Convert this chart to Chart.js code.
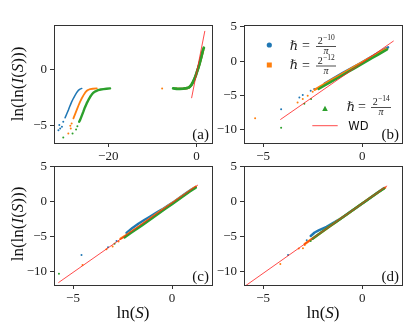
<!DOCTYPE html>
<html><head><meta charset="utf-8">
<script src="https://cdn.jsdelivr.net/npm/chart.js@4.4.0/dist/chart.umd.min.js"></script>
<style>
html,body{margin:0;padding:0;background:#fff;}
#wrap{position:relative;width:415px;height:324px;overflow:hidden;background:#fff;}
canvas{position:absolute;left:0;top:0;}
</style></head><body>
<div id="wrap">
<canvas id="ca" width="415" height="324"></canvas>
<canvas id="cb" width="415" height="324"></canvas>
<canvas id="cc" width="415" height="324"></canvas>
<canvas id="cd" width="415" height="324"></canvas>
</div>
<script>
// ---------- tick labels ----------
const aXTicks = [-20, 0];
const aYTicks = [-5, 0];
const bcdXTicks = [-5, 0];
const bcdYTicks = [-10, -5, 0, 5];
const panelTags = ['(a)', '(b)', '(c)', '(d)'];
const legendExps = ['\u221210', '\u221212', '\u221214'];
const legendWD = 'WD';

// ---------- panel (a) ----------
const aBlueLow = [[-31.3,-5.45],[-30.9,-5.3],[-30.5,-5.15],[-30.2,-4.7],[-31.1,-5.0]];
const aBlueCurve = [[-29.8,-4.35],[-29.4,-3.98],[-29.05,-3.66],[-28.7,-3.3],[-28.3,-2.92],[-27.9,-2.6],[-27.5,-2.32],[-27.1,-2.06],[-26.8,-1.9],[-26.4,-1.78],[-26.0,-1.72]];
const aBlueRight = [[-3.8,-1.76],[-2.8,-1.74],[-1.9,-1.68],[-1.2,-1.45],[-0.6,-1.0],[0.0,-0.35],[0.5,0.25],[1.0,0.95],[1.4,1.6]];
const aOrangeLow = [[-29.05,-5.74],[-28.6,-5.05],[-28.5,-5.3],[-28.3,-4.85]];
const aOrangeCurve = [[-27.9,-4.4],[-27.5,-4.0],[-27.1,-3.6],[-26.75,-3.25],[-26.4,-2.92],[-26.0,-2.6],[-25.6,-2.32],[-25.25,-2.1],[-24.9,-1.94],[-24.5,-1.84],[-24.1,-1.79],[-23.5,-1.75],[-22.6,-1.72]];
const aOrangeRight = [[-4.6,-1.75],[-3.6,-1.76],[-2.6,-1.73],[-1.8,-1.66],[-1.2,-1.45],[-0.6,-1.0],[0.0,-0.35],[0.5,0.25],[1.0,0.95],[1.5,1.7]];
const aOrangeIso = [[-7.8,-1.72]];
const aGreenLow = [[-30.2,-6.1],[-28.1,-5.74],[-27.3,-5.4],[-27.0,-5.1]];
const aGreenCurve = [[-26.6,-4.7],[-26.4,-4.55],[-26.0,-4.15],[-25.65,-3.8],[-25.3,-3.42],[-24.9,-3.06],[-24.5,-2.75],[-24.1,-2.47],[-23.75,-2.27],[-23.4,-2.11],[-22.9,-1.98],[-22.3,-1.88],[-21.7,-1.82],[-21.1,-1.78],[-20.4,-1.75],[-19.6,-1.72]];
const aGreenRight = [[-5.3,-1.72],[-4.5,-1.75],[-3.8,-1.76],[-3.0,-1.74],[-2.26,-1.7],[-1.8,-1.64],[-1.5,-1.55],[-1.1,-1.35],[-0.77,-1.12],[-0.45,-0.85],[-0.16,-0.54],[0.1,-0.22],[0.36,0.08],[0.65,0.45],[0.9,0.83],[1.2,1.3],[1.45,1.7],[1.65,1.92]];
const aWD = [[-1.13,-2.59],[1.88,3.42]];

// ---------- panel (b) ----------
const bBlueBand = [[-1.9,-3.25],[-1.6,-2.75],[-1.3,-2.25],[-1.0,-1.75],[-0.7,-1.27],[-0.4,-0.78],[-0.1,-0.3],[0.2,0.2],[0.5,0.7],[0.8,1.2],[1.1,1.7],[1.3,2.0]];
const bBlueDots = [[-4.09,-7.0],[-3.17,-5.27],[-3.0,-4.93],[-2.6,-4.3],[-2.42,-4.06]];
const bOrangeBand = [[-2.4,-4.15],[-2.1,-3.65],[-1.8,-3.15],[-1.5,-2.65],[-1.2,-2.15],[-0.9,-1.65],[-0.6,-1.15],[-0.3,-0.66],[0.0,-0.17],[0.3,0.33],[0.6,0.82],[0.9,1.32],[1.2,1.8]];
const bOrangeDots = [[-5.4,-8.3],[-3.26,-6.0],[-3.0,-5.5],[-2.75,-5.03],[-2.5,-4.45]];
const bGreenBand = [[-2.2,-4.05],[-1.9,-3.55],[-1.6,-3.05],[-1.3,-2.55],[-1.0,-2.05],[-0.7,-1.55],[-0.4,-1.05],[-0.1,-0.55],[0.2,-0.05],[0.5,0.45],[0.8,0.95],[1.1,1.45],[1.25,1.7]];
const bGreenDots = [[-4.09,-9.7],[-2.92,-6.2],[-2.58,-5.5]];
const bWD = [[-4.13,-8.5],[1.58,2.94]];

// ---------- panel (c) ----------
const cBlueBand = [[-2.3,-4.45],[-2.0,-3.75],[-1.7,-3.15],[-1.4,-2.62],[-1.1,-2.1],[-0.8,-1.6],[-0.5,-1.1],[-0.2,-0.55],[0.1,0.0],[0.4,0.6],[0.7,1.2],[1.0,1.78],[1.2,2.1]];
const cBlueDots = [[-4.57,-7.6],[-3.23,-6.5],[-2.8,-5.6]];
const cOrangeBand = [[-2.6,-5.3],[-2.3,-4.75],[-2.0,-4.2],[-1.7,-3.6],[-1.4,-3.0],[-1.1,-2.4],[-0.8,-1.8],[-0.5,-1.2],[-0.2,-0.62],[0.1,-0.03],[0.4,0.55],[0.7,1.15],[1.0,1.75],[1.2,2.15]];
const cOrangeDots = [[-4.52,-9.05],[-3.31,-6.8],[-3.0,-6.4],[-2.7,-5.7]];
const cGreenBand = [[-2.4,-5.1],[-2.1,-4.5],[-1.8,-3.95],[-1.5,-3.35],[-1.2,-2.75],[-0.9,-2.15],[-0.6,-1.55],[-0.3,-0.95],[0.0,-0.35],[0.3,0.25],[0.6,0.85],[0.9,1.45],[1.2,2.0]];
const cGreenDots = [[-5.71,-10.3],[-2.9,-6.0]];
const cWD = [[-5.74,-11.57],[1.31,2.39]];

// ---------- panel (d) ----------
const dBlueBand = [[-2.6,-4.9],[-2.4,-4.4],[-2.2,-4.1],[-2.0,-3.85],[-1.8,-3.6],[-1.5,-3.1],[-1.2,-2.6],[-0.9,-2.05],[-0.6,-1.45],[-0.3,-0.85],[0.0,-0.25],[0.3,0.35],[0.6,0.95],[0.9,1.55],[1.1,1.95]];
const dBlueDots = [[-3.74,-7.6],[-2.8,-5.5]];
const dOrangeBand = [[-2.9,-6.05],[-2.6,-5.45],[-2.3,-4.85],[-2.0,-4.25],[-1.7,-3.65],[-1.4,-3.05],[-1.1,-2.45],[-0.8,-1.85],[-0.5,-1.25],[-0.2,-0.65],[0.1,-0.05],[0.4,0.55],[0.7,1.15],[1.0,1.75],[1.15,2.0]];
const dOrangeDots = [[-4.13,-8.9],[-3.2,-6.7],[-2.99,-6.66],[-2.9,-6.2]];
const dGreenBand = [[-2.5,-5.3],[-2.2,-4.65],[-1.9,-4.05],[-1.6,-3.45],[-1.3,-2.85],[-1.0,-2.25],[-0.7,-1.65],[-0.4,-1.05],[-0.1,-0.45],[0.2,0.15],[0.5,0.75],[0.8,1.35],[1.1,1.9]];
const dGreenDots = [[-2.6,-5.6]];
const dWD = [[-6.2,-12.64],[1.25,2.26]];

// ---------- styling / layout ----------
const W = 415, H = 324, YW = 40, XH = 20;
const BLUE = '#1f77b4', ORANGE = '#ff7f0e', GREEN = '#2ca02c', RED = 'rgba(255,30,30,0.8)';
const SERIF = '"Liberation Serif", "DejaVu Serif", serif';
const pts = a => a.map(p => ({x: p[0], y: p[1]}));
const fmt = v => v < 0 ? '\u2212' + (-v) : String(v);

function band(arr, color, w, order) {
  return {data: pts(arr), showLine: true, borderColor: color, backgroundColor: color, borderWidth: w,
    pointRadius: 0, order, clip: 0, borderCapStyle: 'round', borderJoinStyle: 'round'};
}
function dots(arr, color, order) {
  return {data: pts(arr), showLine: false, pointRadius: 1, pointBorderWidth: 0, backgroundColor: color,
    borderColor: color, order, clip: 0};
}
function wd(arr) {
  return {data: pts(arr), showLine: true, borderColor: RED, borderWidth: 1, pointRadius: 0, order: 0, clip: 0};
}

function drawMixed(ctx, segs, size, cx, cy) {
  let total = 0;
  segs.forEach(s => { ctx.font = (s[1] ? 'italic ' : '') + size + 'px ' + SERIF; total += ctx.measureText(s[0]).width; });
  let x = cx - total / 2;
  ctx.textAlign = 'left'; ctx.textBaseline = 'middle';
  segs.forEach(s => { ctx.font = (s[1] ? 'italic ' : '') + size + 'px ' + SERIF; ctx.fillText(s[0], x, cy); x += ctx.measureText(s[0]).width; });
}
const yTitle = [['ln(ln(', false], ['I', true], ['(', false], ['S', true], [')))', false]];
const xTitle = [['ln(', false], ['S', true], [')', false]];

function makePanel(id, box, xr, yr, xt, yt, datasets, tag, extra) {
  const frame = {
    id: 'frame' + id,
    afterDraw(chart) {
      const c = chart.ctx, a = chart.chartArea;
      c.save();
      c.strokeStyle = '#333'; c.lineWidth = 1;
      c.strokeRect(a.left + 0.5, a.top + 0.5, a.right - a.left, a.bottom - a.top);
      c.fillStyle = '#111';
      c.font = '15px ' + SERIF; c.textAlign = 'right'; c.textBaseline = 'alphabetic';
      c.fillText(tag, a.right - 3, a.bottom - 4.5);
      if (extra) extra(c, a);
      c.restore();
    }
  };
  const tickFont = {family: SERIF, size: 13};
  return new Chart(document.getElementById(id), {
    type: 'scatter',
    data: {datasets},
    options: {
      responsive: false, animation: false, devicePixelRatio: 1, events: [],
      layout: {padding: {left: box.l - YW, right: W - box.r, top: box.t, bottom: H - box.b - XH}},
      plugins: {legend: {display: false}, tooltip: {enabled: false}},
      scales: {
        x: {type: 'linear', min: xr[0], max: xr[1],
          afterBuildTicks: s => { s.ticks = xt.map(v => ({value: v})); },
          afterFit: s => { s.height = XH; },
          grid: {drawOnChartArea: false, drawTicks: true, tickLength: 4, tickColor: '#333', tickWidth: 1},
          border: {display: false},
          ticks: {autoSkip: false, maxRotation: 0, padding: 2, color: '#222', font: tickFont, callback: fmt}},
        y: {type: 'linear', min: yr[0], max: yr[1],
          afterBuildTicks: s => { s.ticks = yt.map(v => ({value: v})); },
          afterFit: s => { s.width = YW; },
          grid: {drawOnChartArea: false, drawTicks: true, tickLength: 4, tickColor: '#333', tickWidth: 1},
          border: {display: false},
          ticks: {autoSkip: false, padding: 3, color: '#222', font: tickFont, callback: fmt}}
      }
    },
    plugins: [frame]
  });
}

// panel (a)
makePanel('ca', {l: 54, t: 25, r: 212, b: 143}, [-32.3, 3.5], [-6.6, 3.95], aXTicks, aYTicks, [
  wd(aWD),
  band(aGreenCurve, GREEN, 2.4, 1), dots(aGreenLow, GREEN, 1), band(aGreenRight, GREEN, 2.8, 1),
  band(aOrangeCurve, ORANGE, 1.8, 2), dots(aOrangeLow, ORANGE, 2), band(aOrangeRight, ORANGE, 2.4, 2), dots(aOrangeIso, ORANGE, 2),
  band(aBlueCurve, BLUE, 1.5, 3), dots(aBlueLow, BLUE, 3), band(aBlueRight, BLUE, 2.2, 3)
], panelTags[0], (c, a) => {
  c.save(); c.translate(18.5, 84); c.rotate(-Math.PI / 2); c.fillStyle = '#111';
  drawMixed(c, yTitle, 17, 0, 0); c.restore();
});

// panel (b)
makePanel('cb', {l: 244, t: 25, r: 402, b: 143}, [-5.96, 2.0], [-11.9, 5.25], bcdXTicks, bcdYTicks, [
  wd(bWD),
  band(bGreenBand, GREEN, 2.4, 1), dots(bGreenDots, GREEN, 1),
  band(bOrangeBand, ORANGE, 2.4, 2), dots(bOrangeDots, ORANGE, 2),
  band(bBlueBand, BLUE, 2.4, 3), dots(bBlueDots, BLUE, 3)
], panelTags[1], (c, a) => {
  function entry(hx, eqx, fx, cy, exp) {
    c.fillStyle = '#222'; c.textAlign = 'center'; c.textBaseline = 'middle';
    c.font = 'italic 13px "DejaVu Serif", serif'; c.fillText('\u210F', hx, cy);
    c.font = '14px ' + SERIF; c.fillText('=', eqx, cy);
    c.font = '10px ' + SERIF; const w2 = c.measureText('2').width;
    c.font = '7.5px ' + SERIF; const we = c.measureText(exp).width;
    const sx = fx - (w2 + we) / 2;
    c.textAlign = 'left'; c.textBaseline = 'alphabetic';
    c.font = '10px ' + SERIF; c.fillText('2', sx, cy - 2.5);
    c.font = '7.5px ' + SERIF; c.fillText(exp, sx + w2 + 0.3, cy - 6.3);
    c.fillRect(fx - 10, cy - 0.4, 20, 0.8);
    c.textAlign = 'center'; c.textBaseline = 'alphabetic';
    c.font = 'italic 10px ' + SERIF; c.fillText('\u03C0', fx, cy + 7.5);
  }
  // markers
  c.fillStyle = BLUE; c.beginPath(); c.arc(269.3, 45, 2.6, 0, Math.PI * 2); c.fill();
  c.fillStyle = ORANGE; c.fillRect(266.8, 62.5, 5, 5);
  c.fillStyle = GREEN; c.beginPath(); c.moveTo(325, 105.8); c.lineTo(327.8, 111); c.lineTo(322.2, 111); c.closePath(); c.fill();
  entry(294, 306, 326, 46.5, legendExps[0]);
  entry(294, 306, 326, 66, legendExps[1]);
  entry(351, 362, 381, 107.5, legendExps[2]);
  c.strokeStyle = RED; c.lineWidth = 1; c.beginPath(); c.moveTo(312.3, 125.7); c.lineTo(337.7, 125.7); c.stroke();
  c.fillStyle = '#111'; c.font = '11.5px "DejaVu Sans", sans-serif'; c.textAlign = 'left'; c.textBaseline = 'middle';
  c.fillText(legendWD, 348.3, 126.7);
});

// panel (c)
makePanel('cc', {l: 54, t: 166, r: 212, b: 285}, [-5.96, 2.02], [-11.9, 5.1], bcdXTicks, bcdYTicks, [
  wd(cWD),
  band(cGreenBand, GREEN, 2.4, 1), dots(cGreenDots, GREEN, 1),
  band(cOrangeBand, ORANGE, 2.4, 2), dots(cOrangeDots, ORANGE, 2),
  band(cBlueBand, BLUE, 2.4, 3), dots(cBlueDots, BLUE, 3)
], panelTags[2], (c, a) => {
  c.save(); c.translate(18.5, 224); c.rotate(-Math.PI / 2); c.fillStyle = '#111';
  drawMixed(c, yTitle, 17, 0, 0); c.restore();
  c.fillStyle = '#111'; drawMixed(c, xTitle, 17, (a.left + a.right) / 2, 314);
});

// panel (d)
makePanel('cd', {l: 244, t: 166, r: 402, b: 285}, [-5.96, 2.0], [-11.9, 5.1], bcdXTicks, bcdYTicks, [
  wd(dWD),
  band(dGreenBand, GREEN, 2.4, 1), dots(dGreenDots, GREEN, 1),
  band(dOrangeBand, ORANGE, 2.4, 2), dots(dOrangeDots, ORANGE, 2),
  band(dBlueBand, BLUE, 2.4, 3), dots(dBlueDots, BLUE, 3)
], panelTags[3], (c, a) => {
  c.fillStyle = '#111'; drawMixed(c, xTitle, 17, (a.left + a.right) / 2, 314);
});
</script>
</body></html>
